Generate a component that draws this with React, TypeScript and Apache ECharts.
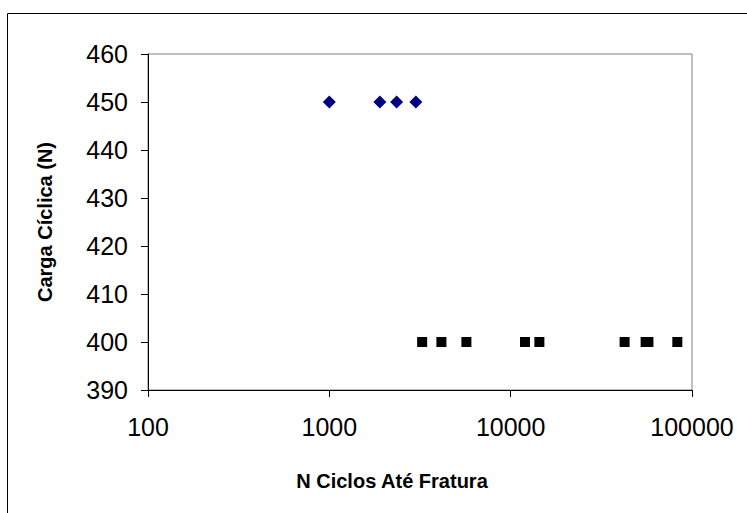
import React, { useEffect, useRef } from "react";
import * as echarts from "echarts";

const load450Cycles = [1000, 1900, 2350, 3000];
const load450Values = [450, 450, 450, 450];
const load400Cycles = [3250, 4150, 5700, 12000, 14400, 42500, 55500, 57500, 83000];
const load400Values = [400, 400, 400, 400, 400, 400, 400, 400, 400];
const yTicks = [390, 400, 410, 420, 430, 440, 450, 460];
const xTitle = "N Ciclos Até Fratura";
const yTitle = "Carga Cíclica (N)";

const FONT = 'Arial, "Liberation Sans", sans-serif';

export default function App() {
  const ref = useRef<HTMLDivElement>(null);
  useEffect(() => {
    document.body.style.margin = "0";
    const chart = echarts.init(ref.current!, null, { renderer: "svg" });
    const s1 = load450Cycles.map((x, i) => [x, load450Values[i]]);
    const s2 = load400Cycles.map((x, i) => [x, load400Values[i]]);
    chart.setOption({
      animation: false,
      backgroundColor: "#ffffff",
      textStyle: { fontFamily: FONT },
      grid: {
        left: 148,
        top: 54,
        width: 544,
        height: 336,
        show: true,
        borderColor: "#808080",
        borderWidth: 1,
        backgroundColor: "#ffffff",
      },
      xAxis: {
        type: "log",
        logBase: 10,
        min: 100,
        max: 100000,
        axisLine: { show: true, onZero: false, lineStyle: { color: "#000000", width: 1 } },
        axisTick: { show: true, inside: false, length: 7, lineStyle: { color: "#000000" } },
        minorTick: { show: false },
        splitLine: { show: false },
        axisLabel: {
          color: "#000000",
          fontSize: 25,
          fontFamily: FONT,
          margin: 24,
          formatter: (v: number) => String(Math.round(v)),
        },
      },
      yAxis: {
        type: "value",
        min: yTicks[0],
        max: yTicks[yTicks.length - 1],
        interval: 10,
        axisLine: { show: true, onZero: false, lineStyle: { color: "#000000", width: 1 } },
        axisTick: { show: true, inside: false, length: 7, lineStyle: { color: "#000000" } },
        splitLine: { show: false },
        axisLabel: {
          color: "#000000",
          fontSize: 25,
          fontFamily: FONT,
          margin: 20,
        },
      },
      graphic: [
        {
          type: "rect",
          silent: true,
          z: -10,
          shape: { x: 7.5, y: 13.5, width: 800, height: 600 },
          style: { fill: "none", stroke: "#000000", lineWidth: 1 },
        },
        {
          type: "text",
          x: 392,
          y: 481,
          style: {
            text: xTitle,
            fontSize: 20,
            fontWeight: "bold",
            fontFamily: FONT,
            fill: "#000000",
            textAlign: "center",
            textVerticalAlign: "middle",
          },
        },
        {
          type: "text",
          x: 45,
          y: 222,
          rotation: Math.PI / 2,
          style: {
            text: yTitle,
            fontSize: 20,
            fontWeight: "bold",
            fontFamily: FONT,
            fill: "#000000",
            textAlign: "center",
            textVerticalAlign: "middle",
          },
        },
      ],
      series: [
        {
          type: "scatter",
          data: s1,
          symbol: "diamond",
          symbolSize: 13,
          itemStyle: { color: "#000080", opacity: 1 },
        },
        {
          type: "scatter",
          data: s2,
          symbol: "rect",
          symbolSize: 10,
          itemStyle: { color: "#000000", opacity: 1 },
        },
      ],
    });
    return () => chart.dispose();
  }, []);
  return <div ref={ref} style={{ width: 747, height: 513 }} />;
}
